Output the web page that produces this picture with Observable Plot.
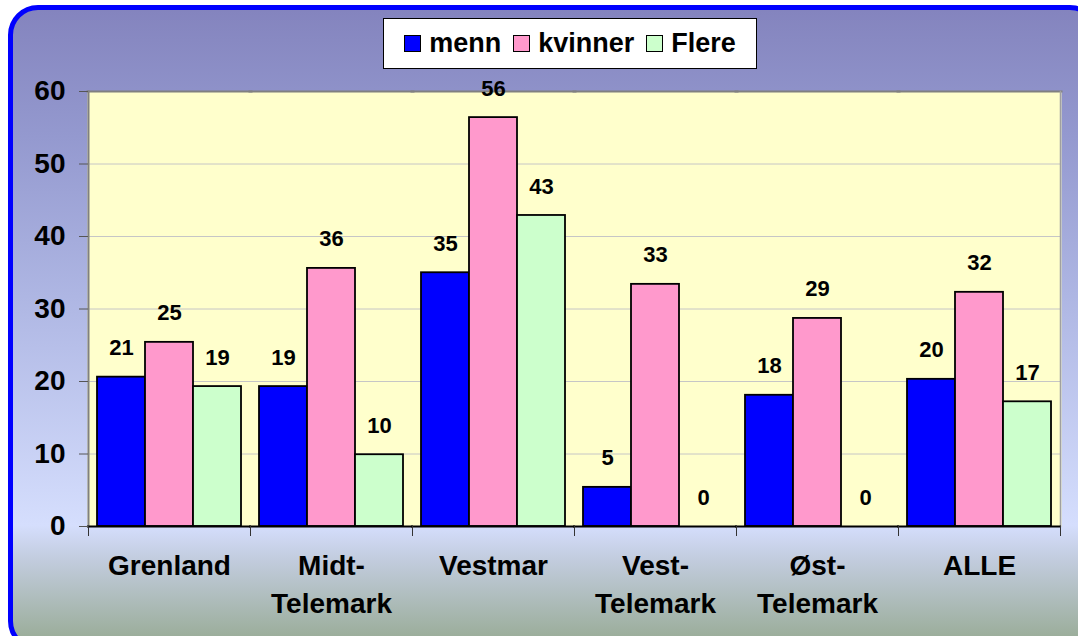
<!DOCTYPE html>
<html>
<head>
<meta charset="utf-8">
<script src="https://cdn.jsdelivr.net/npm/d3@7"></script>
<script src="https://cdn.jsdelivr.net/npm/@observablehq/plot@0.6"></script>
<style>
  html, body { margin: 0; padding: 0; width: 1078px; height: 636px; overflow: hidden; background: #fff; }
  #box {
    position: absolute; left: 8px; top: 5px; width: 1092px; height: 646px;
    box-sizing: border-box; border: 5px solid #0000FF; border-radius: 30px;
    background: linear-gradient(to bottom, #8484BE 0%, #9499CF 20%, #AEB6E3 45%, #D5DEFD 81%, #C3CDE0 86%, #97AA93 100%);
  }
  #chart { position: absolute; left: 0; top: 0; }
  #legend {
    position: absolute; left: 383px; top: 18px; width: 374px; height: 51px;
    box-sizing: border-box; border: 1px solid #000; background: #fff;
    display: flex; align-items: center; justify-content: center;
    font-family: "Liberation Sans", Arial, sans-serif; font-weight: bold; font-size: 27px; color: #000;
  }
  .item { display: flex; align-items: center; margin: 0 6px; }
  .sw { width: 15px; height: 15px; border: 1.5px solid #000; margin-right: 8px; }
</style>
</head>
<body>
<div id="box"></div>
<div id="chart"></div>
<div id="legend"></div>
<script>
const categories = ["Grenland", "Midt-Telemark", "Vestmar", "Vest-Telemark", "Øst-Telemark", "ALLE"];
const tickLabels = ["Grenland", "Midt-\nTelemark", "Vestmar", "Vest-\nTelemark", "Øst-\nTelemark", "ALLE"];
const seriesNames = ["menn", "kvinner", "Flere"];
const seriesColors = ["#0000FF", "#FF99CC", "#CCFFCC"];
const menn = [20.6, 19.3, 35.0, 5.4, 18.1, 20.3];
const kvinner = [25.4, 35.6, 56.4, 33.4, 28.7, 32.3];
const flere = [19.3, 9.9, 42.9, 0, 0, 17.2];
const yTicks = [0, 10, 20, 30, 40, 50, 60];

const seriesValues = [menn, kvinner, flere];
const data = [];
categories.forEach((c, i) => {
  seriesNames.forEach((s, j) => data.push({cat: c, series: s, value: seriesValues[j][i]}));
});
const labelOf = new Map(categories.map((c, i) => [c, tickLabels[i]]));

const font = "'Liberation Sans', Arial, sans-serif";

const plot = Plot.plot({
  width: 1078,
  height: 636,
  marginLeft: 86,
  marginRight: 16,
  marginTop: 91,
  marginBottom: 110,
  style: {background: "transparent", fontFamily: font, overflow: "visible", color: "#000"},
  fx: {domain: categories, padding: 0, axis: null, label: null},
  x: {domain: seriesNames, paddingInner: 0, paddingOuter: 0.16, axis: null, label: null},
  y: {domain: [0, 60], axis: null, label: null},
  color: {domain: seriesNames, range: seriesColors},
  marks: [
    Plot.frame({fill: "#FFFFCC", insetLeft: -1, insetRight: -1}),
    Plot.gridY({ticks: yTicks.filter(t => t > 0 && t < 60), stroke: "#c6c6c6", strokeOpacity: 1}),
    Plot.frame({anchor: "top", stroke: "#808080", strokeWidth: 2, insetLeft: -1, insetRight: -1}),
    Plot.frame({anchor: "left", stroke: "#808080", strokeWidth: 2, facetAnchor: "left"}),
    Plot.frame({anchor: "right", stroke: "#a0a0a0", strokeWidth: 1.5, facetAnchor: "right"}),
    Plot.barY(data, {fx: "cat", x: "series", y: "value", fill: "series", stroke: "#000", strokeWidth: 1.8}),
    Plot.ruleY([0], {stroke: "#000", strokeWidth: 2, insetLeft: -1, insetRight: -1}),
    Plot.frame({anchor: "left", insetTop: 435, insetBottom: -9, stroke: "#333", strokeWidth: 1}),
    Plot.frame({anchor: "right", insetTop: 435, insetBottom: -9, stroke: "#333", strokeWidth: 1, facetAnchor: "right"}),
    Plot.text(data, {fx: "cat", x: "series", y: "value", text: d => String(Math.round(d.value)), dy: -29,
      fontSize: 22, fontWeight: "bold", fill: "#000"}),
    Plot.axisY({ticks: yTicks, tickSize: 9, tickPadding: 14, fontSize: 28, fontWeight: "bold", stroke: "#555", fill: "#000", label: null, tickFormat: d => String(d)}),
    Plot.axisFx({anchor: "bottom", tickSize: 0, tickPadding: 22, fontSize: 28, fontWeight: "bold", lineHeight: 1.35, label: null,
      tickFormat: c => labelOf.get(c), fill: "#000"})
  ]
});
document.getElementById("chart").appendChild(plot);

const legend = document.getElementById("legend");
seriesNames.forEach((s, i) => {
  const item = document.createElement("div");
  item.className = "item";
  const sw = document.createElement("div");
  sw.className = "sw";
  sw.style.background = seriesColors[i];
  const t = document.createElement("span");
  t.textContent = s;
  item.appendChild(sw);
  item.appendChild(t);
  legend.appendChild(item);
});
</script>
</body>
</html>
